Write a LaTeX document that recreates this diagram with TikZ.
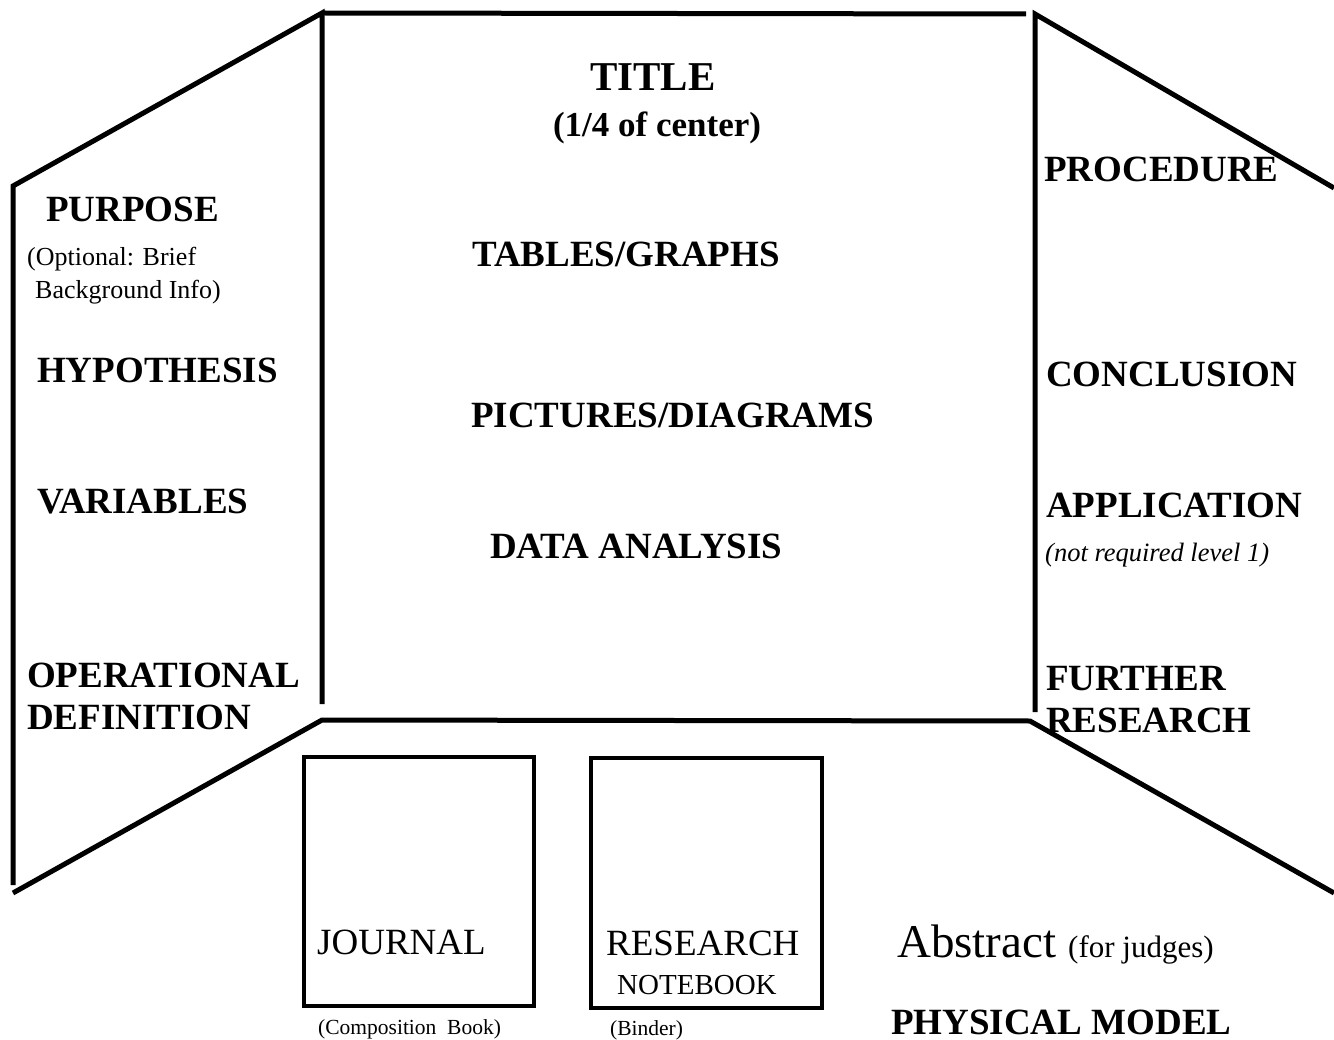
\documentclass[tikz,border=0pt]{standalone}
\usepackage{fontspec}
\setmainfont{Liberation Serif}
\begin{document}
\begin{tikzpicture}[x=1pt,y=-1pt,
  board/.style={line width=5pt,line cap=butt,line join=miter},
  bookbox/.style={line width=4.5pt},
  hd/.style={anchor=base west,inner sep=0pt,font=\fontsize{37}{40}\selectfont\bfseries},
  sub/.style={anchor=base west,inner sep=0pt,font=\fontsize{26}{28}\selectfont},
  small/.style={anchor=base west,inner sep=0pt,font=\fontsize{21.5}{24}\selectfont},
  big/.style={anchor=base west,inner sep=0pt,font=\fontsize{37}{40}\selectfont}]
\useasboundingbox (0,0) rectangle (1334,1040);
% board outline
\coordinate (lt) at (13,186);
\coordinate (lb) at (13,885);
\coordinate (ltop) at (322,13);
\coordinate (lbot) at (322,704);
\coordinate (ctr) at (1026,14);
\coordinate (rtop) at (1035,14);
\coordinate (rbot) at (1035,712);
\coordinate (rt) at (1334,188);
\coordinate (llow) at (13,893);
\coordinate (cbl) at (322,720);
\coordinate (cbr) at (1030,721);
\coordinate (rlow) at (1334,893);
\draw[board] (lb) -- (lt) -- (ltop) -- (lbot);
\draw[board] (ltop) -- (ctr);
\draw[board] (rbot) -- (rtop) -- (rt);
\draw[board] (llow) -- (cbl) -- (cbr) -- (rlow);
% boxes
\draw[bookbox] (304,757) rectangle (534,1006);
\draw[bookbox] (591,758) rectangle (822,1008);
% center
\node[anchor=base,inner sep=0pt,font=\fontsize{41}{44}\selectfont\bfseries] (title) at (653,91) {TITLE};
\node[anchor=base,inner sep=0pt,font=\fontsize{35}{40}\selectfont\bfseries] (quarter) at (657,137) {(1/4 of center)};
\node[hd] (tables) at (472,267) {TABLES/GRAPHS};
\node[hd] (pics) at (471,428) {PICTURES/DIAGRAMS};
\node[hd] (data) at (490,558) {DATA ANALYSIS};
% left
\node[hd] (purpose) at (46,222) {PURPOSE};
\node[sub] (opt1) at (27,266) {(Optional: Brief};
\node[sub] (opt2) at (35,299) {Background Info)};
\node[hd] (hyp) at (37,383) {HYPOTHESIS};
\node[hd] (var) at (37,513) {VARIABLES};
\node[hd] (op1) at (27,687) {OPERATIONAL};
\node[hd] (op2) at (27,729) {DEFINITION};
% right
\node[hd] (proc) at (1044,182) {PROCEDURE};
\node[hd] (concl) at (1046,387) {CONCLUSION};
\node[hd] (appl) at (1046,517) {APPLICATION};
\node[sub,font=\fontsize{26.5}{28}\selectfont\itshape] (notreq) at (1045,561) {(not required level 1)};
\node[hd] (fur1) at (1046,690) {FURTHER};
\node[hd] (fur2) at (1046,732) {RESEARCH};
% bottom
\node[big] (journal) at (317,954) {JOURNAL};
\node[big] (research) at (606,955) {RESEARCH};
\node[big,font=\fontsize{29}{32}\selectfont] (notebook) at (617,994) {NOTEBOOK};
\node[small] (comp) at (318,1034) {(Composition\ \ Book)};
\node[small] (binder) at (610,1035) {(Binder)};
\node[big,font=\fontsize{47}{50}\selectfont] (abstract) at (897,957) {Abstract};
\node[big,font=\fontsize{31}{33}\selectfont] (judges) at (1068,957) {(for judges)};
\node[hd] (model) at (891,1034) {PHYSICAL MODEL};
\end{tikzpicture}
\end{document}
